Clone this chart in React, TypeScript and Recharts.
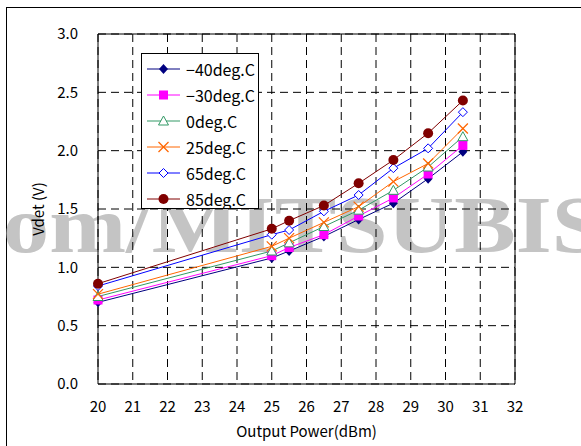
import {
  CartesianGrid,
  Legend,
  Line,
  LineChart,
  ReferenceArea,
  XAxis,
  YAxis,
} from 'recharts'

const powerDbm = [20, 25, 25.5, 26.5, 27.5, 28.5, 29.5, 30.5]
const vdetM40 = [0.7, 1.08, 1.14, 1.265, 1.41, 1.55, 1.76, 1.99]
const vdetM30 = [0.72, 1.1, 1.17, 1.28, 1.44, 1.595, 1.8, 2.045]
const vdet0 = [0.75, 1.14, 1.21, 1.35, 1.49, 1.66, 1.86, 2.12]
const vdet25 = [0.77, 1.18, 1.25, 1.385, 1.52, 1.735, 1.89, 2.19]
const vdet65 = [0.84, 1.28, 1.32, 1.48, 1.62, 1.85, 2.02, 2.33]
const vdet85 = [0.86, 1.33, 1.4, 1.53, 1.72, 1.92, 2.15, 2.43]

const xTicks = [20, 21, 22, 23, 24, 25, 26, 27, 28, 29, 30, 31, 32]
const yTicks = [0, 0.5, 1, 1.5, 2, 2.5, 3]

const series = [
  { key: 'm40', name: '−40deg.C', color: '#000080', marker: 'diamondFilled', values: vdetM40 },
  { key: 'm30', name: '−30deg.C', color: '#FF00FF', marker: 'square', values: vdetM30 },
  { key: 'p0', name: '0deg.C', color: '#339966', marker: 'triangle', values: vdet0 },
  { key: 'p25', name: '25deg.C', color: '#FF6600', marker: 'cross', values: vdet25 },
  { key: 'p65', name: '65deg.C', color: '#0000FF', marker: 'diamondOpen', values: vdet65 },
  { key: 'p85', name: '85deg.C', color: '#800000', marker: 'circle', values: vdet85 },
]

const data = powerDbm.map((p, i) => {
  const row: any = { power: p }
  series.forEach((s) => {
    row[s.key] = s.values[i]
  })
  return row
})

const font = '"Noto Sans CJK JP", sans-serif'

const Marker = ({ cx, cy, type, color }: any) => {
  if (cx == null || cy == null) return null
  switch (type) {
    case 'diamondFilled':
      return (
        <polygon
          points={`${cx},${cy - 5} ${cx + 4.5},${cy} ${cx},${cy + 5} ${cx - 4.5},${cy}`}
          fill={color}
        />
      )
    case 'square':
      return <rect x={cx - 4.5} y={cy - 4.5} width={9} height={9} fill={color} />
    case 'triangle':
      return (
        <polygon
          points={`${cx},${cy - 5} ${cx + 5},${cy + 4} ${cx - 5},${cy + 4}`}
          fill='#fff'
          stroke={color}
        />
      )
    case 'cross':
      return (
        <g stroke={color} strokeWidth={1.2}>
          <line x1={cx - 5} y1={cy - 5} x2={cx + 5} y2={cy + 5} />
          <line x1={cx - 5} y1={cy + 5} x2={cx + 5} y2={cy - 5} />
        </g>
      )
    case 'diamondOpen':
      return (
        <polygon
          points={`${cx},${cy - 4.5} ${cx + 4.5},${cy} ${cx},${cy + 4.5} ${cx - 4.5},${cy}`}
          fill='#fff'
          stroke={color}
        />
      )
    default:
      return <circle cx={cx} cy={cy} r={5} fill={color} />
  }
}

// legend drawn by hand so each row gets the line + marker like the original
const LegendBox = () => (
  <svg width={118} height={156} style={{ display: 'block' }}>
    <rect x={0.5} y={0.5} width={117} height={155} fill='#fff' stroke='#000' />
    {series.map((s, i) => {
      const y = 16 + i * 26
      return (
        <g key={s.key}>
          <line x1={6} y1={y} x2={39} y2={y} stroke={s.color} />
          <Marker cx={22.5} cy={y} type={s.marker} color={s.color} />
          <text
            x={45}
            y={y}
            dominantBaseline='central'
            fontSize={16}
            fontFamily={font}
            fill='#000'
          >
            {s.name}
          </text>
        </g>
      )
    })}
  </svg>
)

export default function App() {
  return (
    <div
      style={{
        position: 'absolute',
        left: 0,
        top: 0,
        width: 581,
        height: 446,
        overflow: 'hidden',
        background: '#fff',
      }}
    >
      <div
        style={{
          position: 'absolute',
          left: 6,
          top: 7,
          width: 700,
          height: 600,
          borderLeft: '1px solid #000',
          borderTop: '1px solid #000',
        }}
      />
      <svg
        width={581}
        height={446}
        style={{ position: 'absolute', left: 0, top: 0 }}
      >
        <text
          x={3}
          y={252}
          fontSize={80}
          fontWeight='bold'
          fontFamily='"Liberation Serif", serif'
          fill='#c4c4c4'
          textLength={600}
          lengthAdjust='spacingAndGlyphs'
        >
          om/MITSUBIS
        </text>
      </svg>
      <div style={{ position: 'absolute', left: 0, top: 0 }}>
        <LineChart
          width={581}
          height={446}
          data={data}
          margin={{ top: 34, right: 66, left: 0, bottom: 0 }}
          style={{ fontFamily: font }}
        >
          <CartesianGrid stroke='#000' strokeDasharray='8 5' />
          <XAxis
            dataKey='power'
            type='number'
            domain={[20, 32]}
            ticks={xTicks}
            height={62}
            tickLine={false}
            axisLine={false}
            tickMargin={11}
            tick={{ fill: '#000', fontSize: 15 }}
            label={{
              value: 'Output Power(dBm)',
              position: 'insideBottom',
              offset: 9,
              fill: '#000',
              fontSize: 15,
            }}
          />
          <YAxis
            type='number'
            domain={[0, 3]}
            ticks={yTicks}
            width={98}
            tickLine={false}
            axisLine={false}
            tickMargin={14}
            tickFormatter={(v: number) => v.toFixed(1)}
            tick={{ fill: '#000', fontSize: 15 }}
            label={{
              value: 'Vdet (V)',
              angle: -90,
              position: 'center',
              dx: -10,
              fill: '#000',
              fontSize: 15,
            }}
          />
          <ReferenceArea
            x1={20}
            x2={32}
            y1={0}
            y2={3}
            fill='none'
            stroke='#000'
            strokeWidth={1}
          />
          {series.map((s) => (
            <Line
              key={s.key}
              dataKey={s.key}
              name={s.name}
              stroke={s.color}
              strokeWidth={1}
              isAnimationActive={false}
              dot={(props: any) => (
                <Marker
                  key={`${s.key}-${props.index}`}
                  cx={props.cx}
                  cy={props.cy}
                  type={s.marker}
                  color={s.color}
                />
              )}
              activeDot={false}
            />
          ))}
          <Legend
            layout='vertical'
            align='center'
            verticalAlign='middle'
            content={() => <LegendBox />}
            wrapperStyle={{ left: 141, top: 53, width: 118, height: 156 }}
          />
        </LineChart>
      </div>
    </div>
  )
}
